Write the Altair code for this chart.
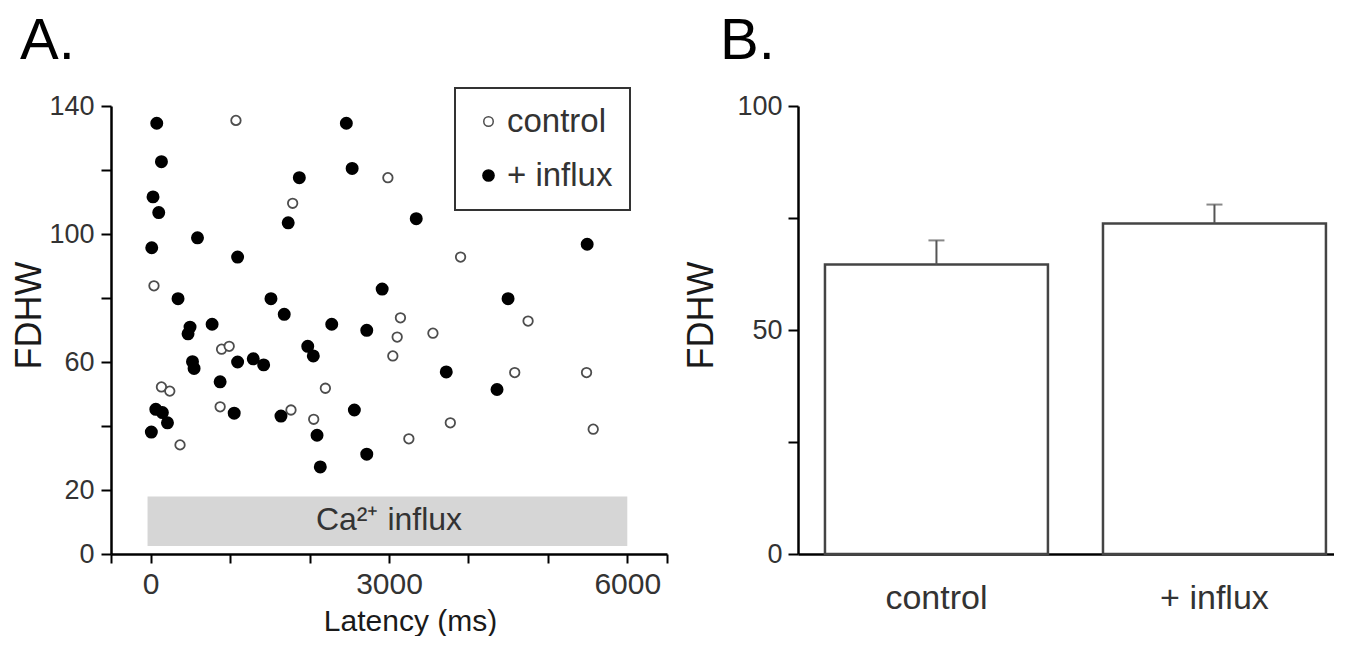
import altair as alt
import pandas as pd

# ---------------- Panel A data (latency in ms, FDHW) ----------------
ctrl_x = [1073, 1787, 41, 892, 988, 2986, 3144, 3103, 3048, 3553, 135, 240,
          2199, 3901, 4751, 4583, 5487, 369, 874, 1766, 2052, 3250, 3772, 5571]
ctrl_y = [135.5, 109.6, 83.8, 64.0, 64.9, 117.6, 73.8, 67.8, 61.9, 69.0, 52.2, 50.9,
          51.8, 92.8, 72.8, 56.7, 56.7, 34.1, 46.0, 45.0, 42.1, 36.0, 41.0, 39.0]
infl_x = [76, 135, 29, 101, 13, 589, 1094, 344, 495, 470, 773, 526, 546, 1094,
          1291, 1422, 874, 1514, 1681, 1731, 1871, 1977, 2047, 2279, 2463, 2536,
          3343, 2720, 2914, 3721, 4499, 5495, 4360, 8, 64, 147, 211, 1051, 1640,
          2094, 2135, 2564, 2720]
infl_y = [134.6, 122.6, 111.6, 106.7, 95.7, 98.8, 92.8, 79.8, 70.9, 68.8, 71.8, 60.1,
          58.0, 60.0, 61.0, 59.1, 53.8, 79.8, 74.9, 103.5, 117.6, 64.9, 61.9, 71.8,
          134.6, 120.5, 104.8, 69.9, 82.8, 56.9, 79.8, 96.8, 51.4, 38.1, 45.2, 44.2,
          41.0, 44.0, 43.1, 37.1, 27.2, 45.0, 31.2]
group_names = ["control", "+ influx"]

# Ca2+ influx period bar
band_x = [-40, 6000]
band_y = [2.5, 18]
band_label = ["Ca²⁺ influx"]
band_label_pos = [3000, 10.5]

# ---------------- Panel B data ----------------
bar_groups = ["control", "+ influx"]
bar_means = [64.6, 73.8]
bar_err = [5.4, 4.2]

FONT = "Liberation Sans"
TXT = "#333333"

scatter_df = pd.DataFrame({
    "latency": ctrl_x + infl_x,
    "fdhw": ctrl_y + infl_y,
    "group": [group_names[0]] * len(ctrl_x) + [group_names[1]] * len(infl_x),
})
band_df = pd.DataFrame({"x": [band_x[0]], "x2": [band_x[1]],
                        "y": [band_y[0]], "y2": [band_y[1]]})
label_df = pd.DataFrame({"x": [band_label_pos[0]], "y": [band_label_pos[1]],
                         "t": band_label})
bar_df = pd.DataFrame({
    "group": bar_groups,
    "mean": bar_means,
    "upper": [m + e for m, e in zip(bar_means, bar_err)],
})

xs = alt.Scale(domain=[-500, 6500], nice=False, zero=False)
ys = alt.Scale(domain=[0, 140], nice=False)

axis_common = dict(grid=False, domainColor="black", domainWidth=2.5,
                   tickColor="black", tickWidth=2, labelFont=FONT,
                   labelColor=TXT, titleFont=FONT, titleColor="#1a1a1a",
                   titleFontWeight="normal")

ax_x = alt.Axis(values=[-500, 0, 1000, 2000, 3000, 4000, 5000, 6000, 6500],
                labelExpr="(datum.value==0||datum.value==3000||datum.value==6000) ? datum.value : ''",
                tickSize=9, labelFontSize=30, labelPadding=6, titleFontSize=30,
                titlePadding=7, titleX=299, labelFlush=False, **axis_common)
ax_y = alt.Axis(values=[0, 20, 40, 60, 80, 100, 120, 140],
                labelExpr="(datum.value==0||datum.value==20||datum.value==60||datum.value==100||datum.value==140) ? datum.value : ''",
                tickSize=10, labelFontSize=27, labelPadding=7, titleFontSize=36,
                titlePadding=0, titleY=209, labelFlush=False, **axis_common)

X = lambda f: alt.X(f, scale=xs, axis=ax_x, title="Latency (ms)")
Y = lambda f: alt.Y(f, scale=ys, axis=ax_y, title="FDHW")

band = alt.Chart(band_df).mark_rect(color="#d6d6d6").encode(
    x=X("x:Q"), x2="x2:Q", y=Y("y:Q"), y2="y2:Q")

band_text = alt.Chart(label_df).mark_text(font=FONT, fontSize=32, color=TXT).encode(
    x=X("x:Q"), y=Y("y:Q"), text="t:N")

leg = alt.Legend(title=None, orient="none", legendX=344, legendY=-18,
                 strokeColor="#333333", fillColor="white",
                 padding=17, labelFontSize=33, labelFont=FONT, labelColor=TXT,
                 symbolStrokeWidth=1.5, symbolType="circle",
                 rowPadding=20, labelOffset=2)

points = alt.Chart(scatter_df).mark_point(strokeWidth=1.8, opacity=1).encode(
    x=X("latency:Q"), y=Y("fdhw:Q"),
    fill=alt.Fill("group:N", scale=alt.Scale(domain=group_names, range=["white", "black"]), legend=leg),
    stroke=alt.Stroke("group:N", scale=alt.Scale(domain=group_names, range=["#4d4d4d", "black"]), legend=leg),
    size=alt.Size("group:N", scale=alt.Scale(domain=group_names, range=[90, 125]), legend=leg),
)

panel_a = alt.layer(band, band_text, points).properties(
    width=556, height=448,
    title=alt.TitleParams("A.", anchor="start", fontSize=58, font=FONT,
                          fontWeight="normal", color="black", offset=21, dx=8),
)

# ---------------- Panel B ----------------
bx = alt.Scale(domain=bar_groups, paddingInner=0.198, paddingOuter=0.063, align=0.77)
by = alt.Scale(domain=[0, 100], nice=False)
bax_x = alt.Axis(ticks=False, labelAngle=0, labelFontSize=34, labelPadding=27,
                 title=None, **axis_common)
bax_y = alt.Axis(values=[0, 25, 50, 75, 100],
                 labelExpr="(datum.value==0||datum.value==50||datum.value==100) ? datum.value : ''",
                 tickSize=10, labelFontSize=27, labelPadding=6, titleFontSize=36,
                 titlePadding=16, titleY=209, **axis_common)
BX = alt.X("group:N", sort=bar_groups, scale=bx, axis=bax_x, title=None)

bars = alt.Chart(bar_df).mark_bar(fill="white", stroke="#444444", strokeWidth=2.5).encode(
    x=BX, y=alt.Y("mean:Q", scale=by, axis=bax_y, title="FDHW"))
err = alt.Chart(bar_df).mark_rule(color="#555555", strokeWidth=2).encode(
    x=BX, y=alt.Y("mean:Q", scale=by, axis=bax_y, title="FDHW"), y2="upper:Q")
cap = alt.Chart(bar_df).mark_tick(color="#555555", thickness=2, size=16).encode(
    x=BX, y=alt.Y("upper:Q", scale=by, axis=bax_y, title="FDHW"))

panel_b = alt.layer(bars, err, cap).properties(
    width=536, height=448,
    title=alt.TitleParams("B.", anchor="start", fontSize=58, font=FONT,
                          fontWeight="normal", color="black", offset=21, dx=36),
)

chart = alt.hconcat(panel_a, panel_b, spacing=15).properties(
    padding={"left": 3, "top": 5, "right": 0, "bottom": 0}
).configure_view(stroke=None).configure_legend(strokeWidth=2)

chart.save("out.html", embed_options={"renderer": "svg", "actions": False})
